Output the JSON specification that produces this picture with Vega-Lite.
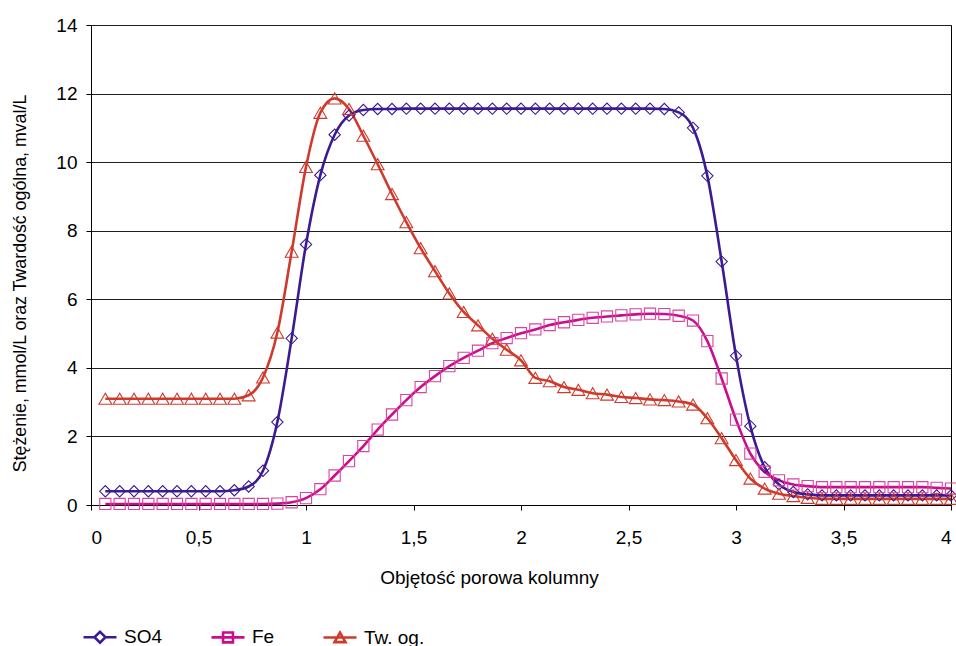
{
  "$schema": "https://vega.github.io/schema/vega-lite/v6.json",
  "width": 860,
  "height": 480,
  "autosize": "none",
  "padding": {"left": 91, "top": 25, "right": 5, "bottom": 141},
  "background": "white",
  "config": {
    "font": "Liberation Sans",
    "view": {"stroke": "#000000", "strokeWidth": 1},
    "axis": {
      "domainColor": "#000000",
      "tickColor": "#000000",
      "tickSize": 5,
      "labelColor": "#000000",
      "labelFontSize": 19,
      "titleColor": "#000000",
      "titleFontSize": 19,
      "titleFontWeight": "normal"
    },
    "legend": {"labelFontSize": 19, "labelColor": "#000000"}
  },
  "data": {
    "values": [
      {"x": 0.0667, "SO4": 0.4, "Fe": 0.03, "Tw": 3.1},
      {"x": 0.1333, "SO4": 0.4, "Fe": 0.03, "Tw": 3.1},
      {"x": 0.2, "SO4": 0.4, "Fe": 0.03, "Tw": 3.1},
      {"x": 0.2667, "SO4": 0.4, "Fe": 0.03, "Tw": 3.1},
      {"x": 0.3333, "SO4": 0.4, "Fe": 0.03, "Tw": 3.1},
      {"x": 0.4, "SO4": 0.4, "Fe": 0.03, "Tw": 3.1},
      {"x": 0.4667, "SO4": 0.4, "Fe": 0.03, "Tw": 3.1},
      {"x": 0.5333, "SO4": 0.4, "Fe": 0.03, "Tw": 3.1},
      {"x": 0.6, "SO4": 0.4, "Fe": 0.03, "Tw": 3.1},
      {"x": 0.6667, "SO4": 0.43, "Fe": 0.03, "Tw": 3.1},
      {"x": 0.7333, "SO4": 0.54, "Fe": 0.03, "Tw": 3.2},
      {"x": 0.8, "SO4": 1.0, "Fe": 0.03, "Tw": 3.72},
      {"x": 0.8667, "SO4": 2.42, "Fe": 0.04, "Tw": 5.03},
      {"x": 0.9333, "SO4": 4.86, "Fe": 0.08, "Tw": 7.39},
      {"x": 1.0, "SO4": 7.6, "Fe": 0.2, "Tw": 9.86},
      {"x": 1.0667, "SO4": 9.62, "Fe": 0.46, "Tw": 11.44},
      {"x": 1.1333, "SO4": 10.8, "Fe": 0.86, "Tw": 11.86},
      {"x": 1.2, "SO4": 11.36, "Fe": 1.28, "Tw": 11.55},
      {"x": 1.2667, "SO4": 11.52, "Fe": 1.72, "Tw": 10.77},
      {"x": 1.3333, "SO4": 11.55, "Fe": 2.2, "Tw": 9.94},
      {"x": 1.4, "SO4": 11.55, "Fe": 2.64, "Tw": 9.07},
      {"x": 1.4667, "SO4": 11.56, "Fe": 3.06, "Tw": 8.25},
      {"x": 1.5333, "SO4": 11.56, "Fe": 3.44, "Tw": 7.49},
      {"x": 1.6, "SO4": 11.56, "Fe": 3.76, "Tw": 6.82},
      {"x": 1.6667, "SO4": 11.56, "Fe": 4.05, "Tw": 6.17},
      {"x": 1.7333, "SO4": 11.56, "Fe": 4.29, "Tw": 5.63},
      {"x": 1.8, "SO4": 11.56, "Fe": 4.5, "Tw": 5.24},
      {"x": 1.8667, "SO4": 11.56, "Fe": 4.72, "Tw": 4.85},
      {"x": 1.9333, "SO4": 11.56, "Fe": 4.87, "Tw": 4.53},
      {"x": 2.0, "SO4": 11.56, "Fe": 5.01, "Tw": 4.22},
      {"x": 2.0667, "SO4": 11.56, "Fe": 5.12, "Tw": 3.71},
      {"x": 2.1333, "SO4": 11.56, "Fe": 5.25, "Tw": 3.61},
      {"x": 2.2, "SO4": 11.56, "Fe": 5.33, "Tw": 3.44},
      {"x": 2.2667, "SO4": 11.56, "Fe": 5.4, "Tw": 3.36},
      {"x": 2.3333, "SO4": 11.56, "Fe": 5.46, "Tw": 3.26},
      {"x": 2.4, "SO4": 11.56, "Fe": 5.5, "Tw": 3.22},
      {"x": 2.4667, "SO4": 11.56, "Fe": 5.53, "Tw": 3.15},
      {"x": 2.5333, "SO4": 11.56, "Fe": 5.56, "Tw": 3.12},
      {"x": 2.6, "SO4": 11.56, "Fe": 5.58, "Tw": 3.08},
      {"x": 2.6667, "SO4": 11.55, "Fe": 5.57, "Tw": 3.06},
      {"x": 2.7333, "SO4": 11.45, "Fe": 5.52, "Tw": 3.02},
      {"x": 2.8, "SO4": 11.0, "Fe": 5.38, "Tw": 2.93},
      {"x": 2.8667, "SO4": 9.6, "Fe": 4.78, "Tw": 2.53},
      {"x": 2.9333, "SO4": 7.1, "Fe": 3.69, "Tw": 1.95},
      {"x": 3.0, "SO4": 4.35, "Fe": 2.49, "Tw": 1.31},
      {"x": 3.0667, "SO4": 2.3, "Fe": 1.5, "Tw": 0.77},
      {"x": 3.1333, "SO4": 1.1, "Fe": 0.97, "Tw": 0.48},
      {"x": 3.2, "SO4": 0.6, "Fe": 0.72, "Tw": 0.33},
      {"x": 3.2667, "SO4": 0.38, "Fe": 0.6, "Tw": 0.26},
      {"x": 3.3333, "SO4": 0.31, "Fe": 0.55, "Tw": 0.21},
      {"x": 3.4, "SO4": 0.28, "Fe": 0.52, "Tw": 0.18},
      {"x": 3.4667, "SO4": 0.28, "Fe": 0.52, "Tw": 0.18},
      {"x": 3.5333, "SO4": 0.28, "Fe": 0.52, "Tw": 0.18},
      {"x": 3.6, "SO4": 0.28, "Fe": 0.52, "Tw": 0.18},
      {"x": 3.6667, "SO4": 0.28, "Fe": 0.52, "Tw": 0.18},
      {"x": 3.7333, "SO4": 0.28, "Fe": 0.52, "Tw": 0.18},
      {"x": 3.8, "SO4": 0.28, "Fe": 0.52, "Tw": 0.18},
      {"x": 3.8667, "SO4": 0.28, "Fe": 0.52, "Tw": 0.18},
      {"x": 3.9333, "SO4": 0.28, "Fe": 0.5, "Tw": 0.18},
      {"x": 4.0, "SO4": 0.28, "Fe": 0.48, "Tw": 0.18}
    ]
  },
  "transform": [{"fold": ["SO4", "Fe", "Tw"], "as": ["series", "y"]}],
  "encoding": {
    "x": {
      "field": "x",
      "type": "quantitative",
      "scale": {"domain": [0, 4], "nice": false, "zero": false},
      "axis": {
        "title": "Objętość porowa kolumny",
        "values": [0, 0.5, 1, 1.5, 2, 2.5, 3, 3.5, 4],
        "labelExpr": "replace(format(datum.value, '~g'), '.', ',')",
        "grid": false,
        "labelPadding": 18,
        "titlePadding": 21,
        "titleX": 398
      }
    },
    "y": {
      "field": "y",
      "type": "quantitative",
      "scale": {"domain": [0, 14], "nice": false},
      "axis": {
        "title": "Stężenie, mmol/L oraz Twardość ogólna, mval/L",
        "titleFontSize": 17.8,
        "titleY": 258,
        "values": [0, 2, 4, 6, 8, 10, 12, 14],
        "grid": true,
        "gridColor": "#202020",
        "gridWidth": 1,
        "gridOpacity": 1,
        "labelPadding": 9,
        "titlePadding": 26
      }
    },
    "color": {
      "field": "series",
      "type": "nominal",
      "scale": {"domain": ["SO4", "Fe", "Tw"], "range": ["#3B1A92", "#CC0C8C", "#CF3A2C"]},
      "legend": {
        "title": null,
        "orient": "none",
        "direction": "horizontal",
        "legendX": -9,
        "legendY": 594,
        "symbolSize": 1089,
        "symbolStrokeWidth": 1.3,
        "symbolFillColor": "transparent",
        "labelOffset": 6,
        "columnPadding": 43,
        "labelExpr": "datum.label == 'Tw' ? 'Tw. og.' : datum.label"
      }
    }
  },
  "layer": [
    {
      "mark": {"type": "line", "interpolate": "monotone"},
      "encoding": {
        "strokeWidth": {
          "field": "series",
          "type": "nominal",
          "scale": {"domain": ["SO4", "Fe", "Tw"], "range": [2.6, 2.6, 1.5]},
          "legend": null
        }
      }
    },
    {
      "transform": [{"filter": "datum.series == 'SO4'"}],
      "mark": {"type": "point", "shape": "diamond", "filled": false, "size": 128, "strokeWidth": 1.1, "opacity": 1}
    },
    {
      "transform": [{"filter": "datum.series == 'Fe'"}],
      "mark": {"type": "point", "shape": "square", "filled": false, "size": 125, "strokeWidth": 1.1, "opacity": 1, "stroke": "#D9449F"}
    },
    {
      "transform": [{"filter": "datum.series == 'Tw'"}],
      "mark": {"type": "point", "shape": "triangle-up", "filled": false, "size": 165, "strokeWidth": 1.1, "opacity": 1}
    },
    {
      "transform": [{"filter": "datum.y > 100"}],
      "mark": {"type": "point", "filled": false, "opacity": 1},
      "encoding": {
        "shape": {
          "field": "series",
          "type": "nominal",
          "scale": {
            "domain": ["SO4", "Fe", "Tw"],
            "range": [
              "M-1,0H-0.33M0.33,0H1M-0.33,0L0,-0.33L0.33,0L0,0.33Z",
              "M-1,0H1M-0.3,-0.3H0.3V0.3H-0.3Z",
              "M-1,0H1M-0.33,0.28L0,-0.3L0.33,0.28Z"
            ]
          },
          "legend": {
            "title": null,
            "orient": "none",
            "direction": "horizontal",
            "legendX": -9,
            "legendY": 594,
            "symbolSize": 1089,
            "symbolStrokeWidth": 1.3,
            "symbolFillColor": "transparent",
            "labelOffset": 6,
            "columnPadding": 43,
            "labelExpr": "datum.label == 'Tw' ? 'Tw. og.' : datum.label"
          }
        }
      }
    }
  ]
}
